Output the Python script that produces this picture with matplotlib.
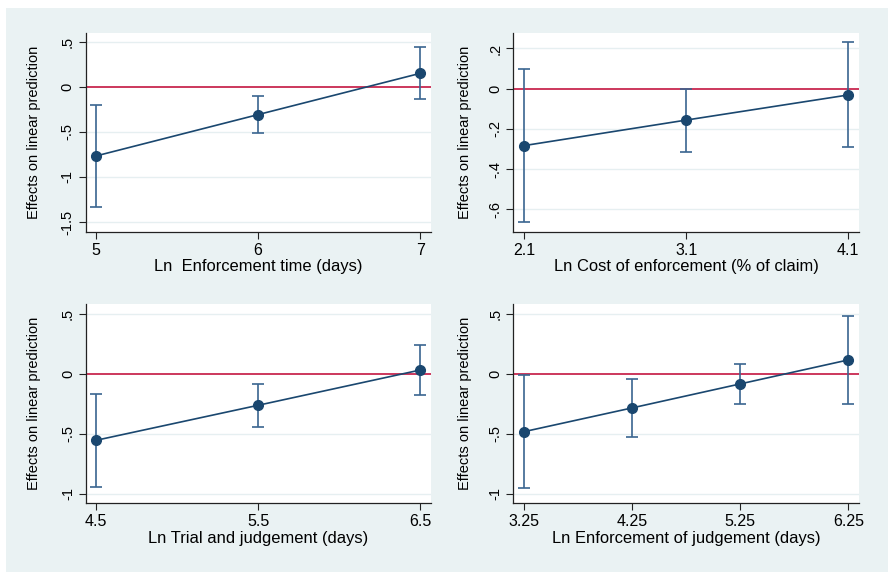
import matplotlib
matplotlib.use("Agg")
import matplotlib.pyplot as plt
import matplotlib.patches as mpatches

plt.rcParams['font.family'] = ['Liberation Sans', 'DejaVu Sans']

# ---- data ----
p1_x = [5, 6, 7]
p1_y = [-0.767, -0.307, 0.152]
p1_lo = [-1.337, -0.515, -0.133]
p1_hi = [-0.197, -0.096, 0.44]
p1_xticks = [5, 6, 7]
p1_xticklabels = ["5", "6", "7"]
p1_yticks = [0.5, 0, -0.5, -1, -1.5]
p1_yticklabels = [".5", "0", "-.5", "-1", "-1.5"]
p1_xlabel = "Ln  Enforcement time (days)"

p2_x = [2.1, 3.1, 4.1]
p2_y = [-0.283, -0.156, -0.031]
p2_lo = [-0.664, -0.313, -0.288]
p2_hi = [0.098, 0.001, 0.23]
p2_xticks = [2.1, 3.1, 4.1]
p2_xticklabels = ["2.1", "3.1", "4.1"]
p2_yticks = [0.2, 0, -0.2, -0.4, -0.6]
p2_yticklabels = [".2", "0", "-.2", "-.4", "-.6"]
p2_xlabel = "Ln Cost of enforcement (% of claim)"

p3_x = [4.5, 5.5, 6.5]
p3_y = [-0.553, -0.261, 0.033]
p3_lo = [-0.939, -0.442, -0.172]
p3_hi = [-0.169, -0.081, 0.242]
p3_xticks = [4.5, 5.5, 6.5]
p3_xticklabels = ["4.5", "5.5", "6.5"]
p3_yticks = [0.5, 0, -0.5, -1]
p3_yticklabels = [".5", "0", "-.5", "-1"]
p3_xlabel = "Ln Trial and judgement (days)"

p4_x = [3.25, 4.25, 5.25, 6.25]
p4_y = [-0.481, -0.283, -0.083, 0.117]
p4_lo = [-0.953, -0.525, -0.247, -0.247]
p4_hi = [-0.006, -0.042, 0.081, 0.481]
p4_xticks = [3.25, 4.25, 5.25, 6.25]
p4_xticklabels = ["3.25", "4.25", "5.25", "6.25"]
p4_yticks = [0.5, 0, -0.5, -1]
p4_yticklabels = [".5", "0", "-.5", "-1"]
p4_xlabel = "Ln Enforcement of judgement (days)"

ylabel = "Effects on linear prediction"

W, H = 888, 572
fig = plt.figure(figsize=(W / 100, H / 100), dpi=100)
fig.patch.set_facecolor("white")
bg = "#eaf2f3"
fig.patches.append(mpatches.Rectangle((6 / W, 0), 1 - 6 / W, 1 - 8 / H,
                                      transform=fig.transFigure, facecolor=bg,
                                      edgecolor="none", zorder=-10))

navy = "#1a476f"
bar_c = "#3a6590"
red = "#c8284f"
grid_c = "#e6eff1"


def make_ax(l, r, t, b):
    return fig.add_axes([l / W, 1 - b / H, (r - l) / W, (b - t) / H])


panels = [
    (make_ax(85.7, 431, 33, 231.7), p1_x, p1_y, p1_lo, p1_hi, p1_xticks, p1_xticklabels,
     p1_yticks, p1_yticklabels, p1_xlabel, (4.938, 7.066), (-1.608, 0.6), 14),
    (make_ax(513.3, 859, 33, 231.7), p2_x, p2_y, p2_lo, p2_hi, p2_xticks, p2_xticklabels,
     p2_yticks, p2_yticklabels, p2_xlabel, (2.034, 4.166), (-0.711, 0.277), 12),
    (make_ax(86, 431, 304, 503.3), p3_x, p3_y, p3_lo, p3_hi, p3_xticks, p3_xticklabels,
     p3_yticks, p3_yticklabels, p3_xlabel, (4.438, 6.566), (-1.078, 0.583), 14),
    (make_ax(513.3, 859, 304, 503.3), p4_x, p4_y, p4_lo, p4_hi, p4_xticks, p4_xticklabels,
     p4_yticks, p4_yticklabels, p4_xlabel, (3.151, 6.349), (-1.078, 0.583), 12),
]

for (ax, x, y, lo, hi, xt, xtl, yt, ytl, xl, xlim, ylim, lp) in panels:
    ax.set_facecolor("white")
    for s in ["top", "right"]:
        ax.spines[s].set_visible(False)
    for s in ["left", "bottom"]:
        ax.spines[s].set_color("#222222")
        ax.spines[s].set_linewidth(0.9)
    for v in yt:
        if v != 0:
            ax.axhline(v, color=grid_c, lw=1.0, zorder=0)
    ax.axhline(0, color=red, lw=1.3, zorder=1)
    yerr = [[yi - l for yi, l in zip(y, lo)], [h - yi for yi, h in zip(y, hi)]]
    ax.errorbar(x, y, yerr=yerr, fmt="none", ecolor=bar_c, elinewidth=1.2,
                capsize=4, capthick=1.2, zorder=2)
    ax.plot(x, y, color=navy, lw=1.2, marker="o", markersize=7,
            markerfacecolor=navy, markeredgecolor=navy, zorder=3)
    ax.set_xlim(*xlim)
    ax.set_ylim(*ylim)
    ax.set_xticks(xt)
    ax.set_xticklabels(xtl, fontsize=11.5)
    ax.set_yticks(yt)
    ax.set_yticklabels(ytl, fontsize=10.5, rotation=90, va="center")
    ax.tick_params(direction="out", length=5, width=0.8, color="#222222", pad=3)
    ax.set_xlabel(xl, fontsize=11.9, labelpad=1)
    ax.set_ylabel(ylabel, fontsize=10.5, labelpad=lp)

fig.savefig("out.png", dpi=100, facecolor=fig.get_facecolor())
